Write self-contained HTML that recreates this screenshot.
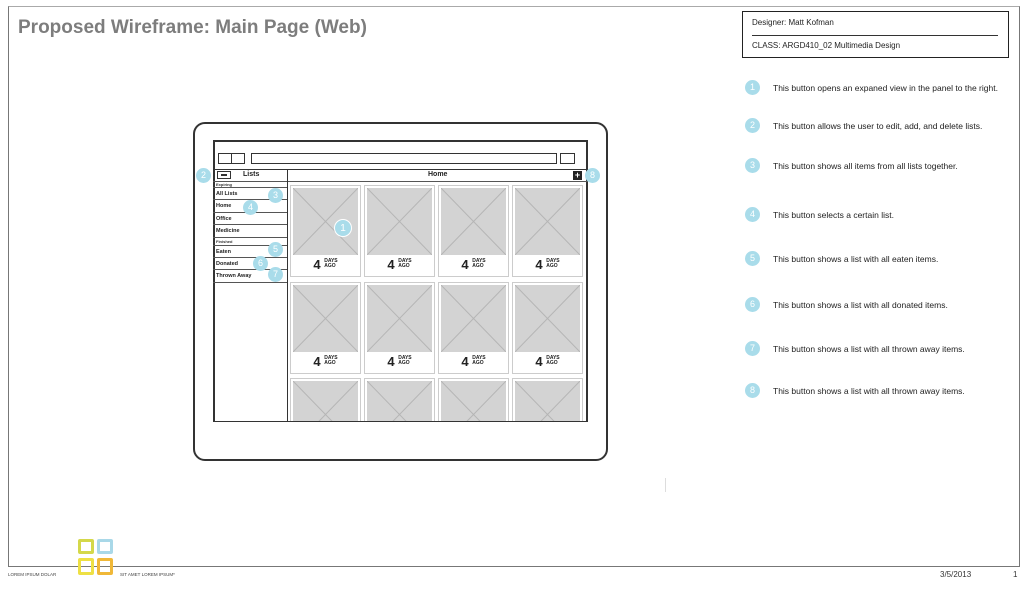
<!DOCTYPE html>
<html><head><style>
*{margin:0;padding:0;box-sizing:border-box}
body{width:1024px;height:604px;background:#fff;position:relative;overflow:hidden;font-family:"Liberation Sans",sans-serif}
.a{position:absolute}
.c{position:absolute;width:15px;height:15px;border-radius:50%;background:#a9dcea;color:#fff;font-size:9px;text-align:center;line-height:15px}
.note{position:absolute;left:773px;font-size:8.5px;color:#222}
.row{position:absolute;left:213px;width:74px;border-bottom:1px solid #555;font-size:5.5px;font-weight:bold;padding-left:3px;color:#222}
.card{position:absolute;width:71px;height:92px;border:1px solid #ccc;background:#fff}
.card svg{position:absolute;left:2px;top:2px}
.card .t{position:absolute;left:0;right:0;bottom:4px;text-align:center;font-weight:bold;font-size:13px;color:#222}
.card .t span{display:inline-block;font-size:5px;line-height:5px;vertical-align:2px;text-align:left}
</style></head><body>
<div class="a" style="left:8px;top:6px;width:1012px;height:561px;border:1px solid #777;border-top-color:#aaa"></div>
<div class="a" style="left:18px;top:17px;font-size:19px;font-weight:bold;color:#7d7d7d">Proposed Wireframe: Main Page (Web)</div>
<div class="a" style="left:742px;top:11px;width:267px;height:47px;border:1px solid #222"></div>
<div class="a" style="left:752px;top:35px;width:246px;height:1px;background:#333"></div>
<div class="a" style="left:752px;top:18px;font-size:8px;color:#222">Designer: Matt Kofman</div>
<div class="a" style="left:752px;top:41px;font-size:8px;color:#222">CLASS: ARGD410_02 Multimedia Design</div>

<div class="c" style="left:745px;top:80px">1</div><div class="note" style="top:83px">This button opens an expaned view in the panel to the right.</div>
<div class="c" style="left:745px;top:118px">2</div><div class="note" style="top:121px">This button allows the user to edit, add, and delete lists.</div>
<div class="c" style="left:745px;top:158px">3</div><div class="note" style="top:161px">This button shows all items from all lists together.</div>
<div class="c" style="left:745px;top:207px">4</div><div class="note" style="top:210px">This button selects a certain list.</div>
<div class="c" style="left:745px;top:251px">5</div><div class="note" style="top:254px">This button shows a list with all eaten items.</div>
<div class="c" style="left:745px;top:297px">6</div><div class="note" style="top:300px">This button shows a list with all donated items.</div>
<div class="c" style="left:745px;top:341px">7</div><div class="note" style="top:344px">This button shows a list with all thrown away items.</div>
<div class="c" style="left:745px;top:383px">8</div><div class="note" style="top:386px">This button shows a list with all thrown away items.</div>

<div class="a" style="left:193px;top:122px;width:415px;height:339px;border:2px solid #333;border-radius:12px"></div>
<div class="a" style="left:213px;top:140px;width:375px;height:282px;border:2px solid #333;border-bottom-width:1px;overflow:hidden"></div>
<div class="a" style="left:218px;top:153px;width:14px;height:11px;border:1px solid #333"></div>
<div class="a" style="left:231px;top:153px;width:14px;height:11px;border:1px solid #333"></div>
<div class="a" style="left:251px;top:153px;width:306px;height:11px;border:1px solid #333"></div>
<div class="a" style="left:560px;top:153px;width:15px;height:11px;border:1px solid #333"></div>
<div class="a" style="left:213px;top:169px;width:375px;height:1px;background:#333"></div>
<div class="a" style="left:213px;top:181px;width:375px;height:1px;background:#555"></div>
<div class="a" style="left:287px;top:169px;width:1px;height:252px;background:#333"></div>
<div class="a" style="left:217px;top:171px;width:14px;height:8px;border:1px solid #333"></div>
<div class="a" style="left:221px;top:174px;width:6px;height:2px;background:#333"></div>
<div class="a" style="left:243px;top:171px;font-size:7px;font-weight:bold;color:#222">Lists</div>
<div class="a" style="left:428px;top:171px;font-size:7px;font-weight:bold;color:#222">Home</div>
<div class="a" style="left:573px;top:171px;width:9px;height:9px;background:#222;color:#fff;font-size:9px;line-height:8px;text-align:center;font-weight:bold">+</div>

<div class="a" style="left:216px;top:182px;font-size:4px;font-weight:bold;color:#333">Expiring</div>
<div class="row" style="top:187px;height:13px;line-height:13px;border-top:1px solid #555">All Lists</div>
<div class="row" style="top:200px;height:13px;line-height:12px">Home</div>
<div class="row" style="top:213px;height:12px;line-height:12px">Office</div>
<div class="row" style="top:225px;height:13px;line-height:13px">Medicine</div>
<div class="a" style="left:216px;top:239px;font-size:4px;font-weight:bold;color:#333">Finished</div>
<div class="row" style="top:245px;height:13px;line-height:13px;border-top:1px solid #555">Eaten</div>
<div class="row" style="top:258px;height:12px;line-height:12px">Donated</div>
<div class="row" style="top:270px;height:13px;line-height:13px">Thrown Away</div>

<div class="a" style="left:288px;top:182px;width:299px;height:239px;overflow:hidden">
<div id="g"></div>
</div>

<div class="c" style="left:196px;top:168px">2</div>
<div class="c" style="left:585px;top:168px">8</div>
<div class="c" style="left:268px;top:188px">3</div>
<div class="c" style="left:243px;top:200px">4</div>
<div class="c" style="left:268px;top:242px">5</div>
<div class="c" style="left:253px;top:256px">6</div>
<div class="c" style="left:268px;top:267px">7</div>
<div class="c" style="left:334px;top:219px;width:18px;height:18px;line-height:18px;font-size:10px;border:1px solid #fff">1</div>

<div class="a" style="left:665px;top:478px;width:1px;height:14px;background:#ddd"></div>

<div class="a" style="left:8px;top:572px;font-size:4.5px;color:#444">LOREM IPSUM DOLAR</div>
<div class="a" style="left:120px;top:572px;font-size:4.5px;color:#444">SIT AMET LOREM IPSUM*</div>
<div class="a" style="left:940px;top:570px;font-size:8px;color:#333">3/5/2013</div>
<div class="a" style="left:1013px;top:570px;font-size:8px;color:#333">1</div>
<div class="a" style="left:78px;top:539px;width:16px;height:15px;border:3px solid #d4d84a;border-radius:2px"></div>
<div class="a" style="left:97px;top:539px;width:16px;height:15px;border:3px solid #a9d8e8;border-radius:2px"></div>
<div class="a" style="left:78px;top:558px;width:16px;height:17px;border:3px solid #eee044;border-radius:2px"></div>
<div class="a" style="left:97px;top:558px;width:16px;height:17px;border:3px solid #f0b838;border-radius:2px"></div>

<script>
var g=document.getElementById('g'),h='';
var xs=[2,76,150,224],ys=[3,100,196];
ys.forEach(function(y){xs.forEach(function(x){
h+='<div class="card" style="left:'+x+'px;top:'+y+'px"><svg width="65" height="67"><rect width="65" height="67" fill="#d3d3d3"/><line x1="0" y1="0" x2="65" y2="67" stroke="#b5b5b5"/><line x1="65" y1="0" x2="0" y2="67" stroke="#b5b5b5"/></svg><div class="t">4 <span>DAYS<br>AGO</span></div></div>';
});});
g.innerHTML=h;
</script>
</body></html>
